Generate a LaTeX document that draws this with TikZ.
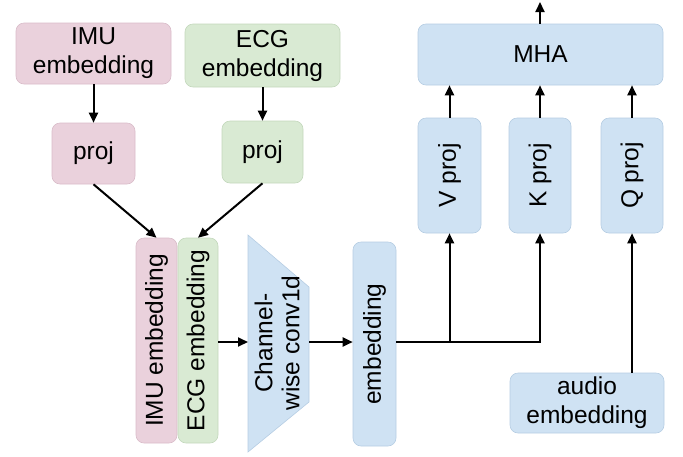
\documentclass[tikz,border=0pt]{standalone}
\usepackage{fontspec}
\setmainfont{Liberation Sans}
\usetikzlibrary{arrows.meta,calc}
\definecolor{imufill}{HTML}{EAD1DC}
\definecolor{imuline}{HTML}{D9BCC9}
\definecolor{ecgfill}{HTML}{D9EAD3}
\definecolor{ecgline}{HTML}{C3D8BC}
\definecolor{bluefill}{HTML}{CFE2F3}
\definecolor{blueline}{HTML}{B6CDE3}
\tikzset{
  blockbox/.style={rounded corners=8pt, line width=0.6pt, inner sep=0pt,
    align=center, font=\fontsize{24.5}{29}\selectfont},
  imubox/.style={blockbox, fill=imufill, draw=imuline},
  ecgbox/.style={blockbox, fill=ecgfill, draw=ecgline},
  bluebox/.style={blockbox, fill=bluefill, draw=blueline},
  sz/.style 2 args={minimum width=#1pt, minimum height=#2pt},
  flow/.style={line width=2pt, -{Triangle[length=10pt,width=9pt]}}
}
\begin{document}
\begin{tikzpicture}[x=1pt,y=-1pt]
\useasboundingbox (0,0) rectangle (683,456);

% input embeddings and their projections
\node[imubox, sz={155}{61}] (imuemb) at (93.5,53.5) {IMU\\embedding};
\node[ecgbox, sz={155}{63}] (ecgemb) at (262.5,55.5) {ECG\\embedding};
\node[imubox, sz={83}{61}] (imuproj) at (93.5,153.5) {proj};
\node[ecgbox, sz={81}{62}] (ecgproj) at (262.5,152) {proj};

% concatenated embeddings (vertical)
\node[imubox, sz={205}{41}, rotate=90] (imucat) at (156.5,340.5) {IMU embedding};
\node[ecgbox, sz={205}{40}, rotate=90] (ecgcat) at (198,340.5) {ECG embedding};

% channel-wise convolution (trapezoid)
\path[fill=bluefill, draw=blueline, line width=0.6pt]
  (248,235) -- (309,287) -- (309,402) -- (248,452) -- cycle;
\node[coordinate] (convin) at (248,342) {};
\node[coordinate] (convout) at (309,342) {};
\node[rotate=90, align=center, font=\fontsize{24.5}{27}\selectfont, inner sep=0pt]
  (convlabel) at (277,343) {Channel-\\wise conv1d};

% fused embedding
\node[bluebox, sz={204}{43}, rotate=90] (fused) at (374.5,344) {embedding};

% attention block
\node[bluebox, sz={245}{61}] (mha) at (540.5,54.5) {MHA};
\node[bluebox, sz={115}{63}, rotate=90] (vproj) at (449.5,175.5) {V proj};
\node[bluebox, sz={115}{62}, rotate=90] (kproj) at (540,175.5) {K proj};
\node[bluebox, sz={115}{62}, rotate=90] (qproj) at (632,175.5) {Q proj};
\node[bluebox, sz={154}{60}] (audio) at (587,403) {audio\\embedding};
\coordinate (out) at (540,2);

% connectors
\draw[flow] (imuemb) -- (imuproj);
\draw[flow] (ecgemb) -- (ecgproj);
\draw[flow] (imuproj.south) -- (imucat.east);
\draw[flow] (ecgproj.south) -- (ecgcat.east);
\draw[flow] (ecgcat.south |- convin) -- (convin);
\draw[flow] (convout) -- (fused.north |- convout);
\draw[flow] (fused.south |- convout) -| (kproj.west);
\draw[flow] (vproj.west |- convout) -- (vproj.west);
\draw[flow] (audio.north -| qproj) -- (qproj.west);
\draw[flow] (vproj.east) -- (vproj.east |- mha.south);
\draw[flow] (kproj.east) -- (kproj.east |- mha.south);
\draw[flow] (qproj.east) -- (qproj.east |- mha.south);
\draw[flow] (mha.north -| out) -- (out);
\end{tikzpicture}
\end{document}
